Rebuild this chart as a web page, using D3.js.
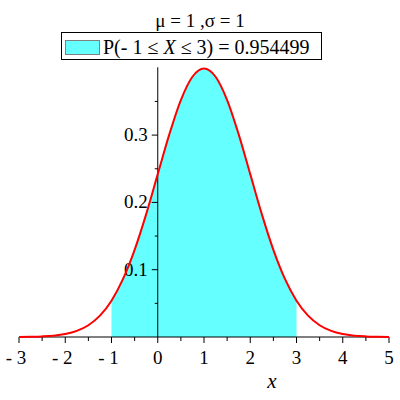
<!DOCTYPE html>
<html>
<head>
<meta charset="utf-8">
<script src="https://cdn.jsdelivr.net/npm/d3@7"></script>
<style>
  body { margin: 0; background: #fff; }
</style>
</head>
<body>
<div id="chart"></div>
<script>
// values (density of N(1,1)), step 0.25 from -3 to 5
const xValues = d3.range(-3, 5.0001, 0.25);
const densityValues = [
  0.0001, 0.0004, 0.0009, 0.0020, 0.0044, 0.0091, 0.0175, 0.0317,
  0.0540, 0.0863, 0.1295, 0.1826, 0.2420, 0.3011, 0.3521, 0.3867,
  0.3989, 0.3867, 0.3521, 0.3011, 0.2420, 0.1826, 0.1295, 0.0863,
  0.0540, 0.0317, 0.0175, 0.0091, 0.0044, 0.0020, 0.0009, 0.0004, 0.0001
];
const shadeRange = [-1, 3];
const xTicks = [-3, -2, -1, 0, 1, 2, 3, 4, 5];
const yTicks = [0.1, 0.2, 0.3];
const titleText = "μ = 1 ,σ = 1";
const probText = "0.954499";

const serif = '"Liberation Serif"';
const width = 400, height = 400;
const svg = d3.select("#chart").append("svg")
  .attr("width", width).attr("height", height);

const x = d3.scaleLinear().domain([-3, 5]).range([19, 389]);
const y = d3.scaleLinear().domain([0, 0.4]).range([337, 67.8]);

const data = xValues.map((v, i) => ({x: v, y: densityValues[i]}));

// shaded area between -1 and 3
const shaded = data.filter(d => d.x >= shadeRange[0] - 1e-9 && d.x <= shadeRange[1] + 1e-9);
svg.append("path")
  .datum(shaded)
  .attr("fill", "#66ffff")
  .attr("d", d3.area()
    .x(d => x(d.x))
    .y0(y(0))
    .y1(d => y(d.y))
    .curve(d3.curveMonotoneX));

// x axis
const xAxis = svg.append("g").attr("transform", `translate(0,${y(0)})`);
xAxis.append("line").attr("x1", x(-3)).attr("x2", x(5)).attr("stroke", "#000");
xAxis.selectAll(".maj").data(xTicks).enter().append("line")
  .attr("x1", d => x(d)).attr("x2", d => x(d))
  .attr("y1", 0).attr("y2", 6).attr("stroke", "#000");
xAxis.selectAll(".min").data(d3.range(-2.5, 5, 1)).enter().append("line")
  .attr("x1", d => x(d)).attr("x2", d => x(d))
  .attr("y1", 0).attr("y2", 4).attr("stroke", "#000");
xAxis.selectAll(".lab").data(xTicks).enter().append("text")
  .attr("x", d => x(d) - (d < 0 ? 3 : 0)).attr("y", 27)
  .attr("text-anchor", "middle").attr("font-size", 19)
  .style("font-family", serif)
  .text(d => d < 0 ? "- " + Math.abs(d) : d);

// y axis
const yAxis = svg.append("g").attr("transform", `translate(${x(0)},0)`);
yAxis.append("line").attr("y1", y(0)).attr("y2", y(0.4) - 0.5).attr("stroke", "#000");
yAxis.selectAll(".maj").data(yTicks).enter().append("line")
  .attr("x1", -6).attr("x2", 0)
  .attr("y1", d => y(d)).attr("y2", d => y(d)).attr("stroke", "#000");
yAxis.selectAll(".min").data([0.05, 0.15, 0.25, 0.35]).enter().append("line")
  .attr("x1", -3).attr("x2", 0)
  .attr("y1", d => y(d)).attr("y2", d => y(d)).attr("stroke", "#000");
yAxis.selectAll(".lab").data(yTicks).enter().append("text")
  .attr("x", -10).attr("y", d => y(d) + 6)
  .attr("text-anchor", "end").attr("font-size", 19)
  .style("font-family", serif)
  .text(d => d.toFixed(1));

// density curve
svg.append("path")
  .datum(data)
  .attr("fill", "none")
  .attr("stroke", "#ff0000")
  .attr("stroke-width", 2)
  .attr("d", d3.line()
    .x(d => x(d.x))
    .y(d => y(d.y))
    .curve(d3.curveMonotoneX));

// axis label
svg.append("text")
  .attr("x", 272).attr("y", 388)
  .attr("text-anchor", "middle")
  .attr("font-size", 21).attr("font-style", "italic")
  .style("font-family", serif)
  .text("x");

// title
svg.append("text")
  .attr("x", 200).attr("y", 27)
  .attr("text-anchor", "middle").attr("font-size", 19)
  .style("font-family", serif)
  .text(titleText);

// legend
const lg = svg.append("g");
lg.append("rect").attr("x", 61.5).attr("y", 32.5).attr("width", 260).attr("height", 27)
  .attr("fill", "#fff").attr("stroke", "#000");
lg.append("rect").attr("x", 65.5).attr("y", 40.5).attr("width", 34).attr("height", 14)
  .attr("fill", "#66ffff").attr("stroke", "#808080");
const lt = lg.append("text").attr("x", 103).attr("y", 54).attr("font-size", 20)
  .style("font-family", serif);
lt.append("tspan").text("P(- 1  ≤ ");
lt.append("tspan").attr("font-style", "italic").text("X");
lt.append("tspan").text(" ≤ 3) = " + probText);
</script>
</body>
</html>
